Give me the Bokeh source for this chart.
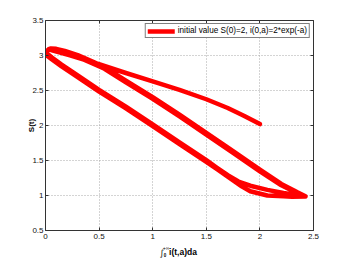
import math
from bokeh.plotting import figure
from bokeh.models import FixedTicker, LinearAxis, Legend, LegendItem, Range1d
from bokeh.embed import file_html
from bokeh.resources import INLINE

# ---------------- data ----------------
x_ticks = [0, 0.5, 1, 1.5, 2, 2.5]
x_labels = ["0", "0.5", "1", "1.5", "2", "2.5"]
y_ticks = [0.5, 1, 1.5, 2, 2.5, 3, 3.5]
y_labels = ["0.5", "1", "1.5", "2", "2.5", "3", "3.5"]

# initial transient: from (2, 2) up-left to the top-left turning region
trans_i = [2.0, 1.85, 1.7, 1.5, 1.25, 1.0, 0.75, 0.5, 0.35, 0.22, 0.12, 0.06, 0.03]
trans_s = [2.02, 2.14, 2.25, 2.375, 2.51, 2.63, 2.75, 2.875, 2.945, 3.005, 3.05, 3.075, 3.09]

# cycle 1, outgoing branch (down-right)
c1_down_i = [0.05, 0.1, 0.18, 0.3, 0.45, 0.55, 0.75, 1.0, 1.25, 1.5, 1.75, 2.0, 2.2, 2.35, 2.425]
c1_down_s = [3.1, 3.095, 3.065, 3.005, 2.905, 2.835, 2.64, 2.405, 2.155, 1.895, 1.635, 1.37, 1.165, 1.045, 0.99]
# cycle 1, return branch (up-left)
c1_up_i = [2.38, 2.22, 2.07, 1.91, 1.8, 1.7, 1.6, 1.5, 1.25, 1.0, 0.75, 0.5, 0.3, 0.15, 0.06, 0.02, 0.01, 0.02, 0.05, 0.1]
c1_up_s = [0.997, 1.036, 1.08, 1.14, 1.2, 1.29, 1.395, 1.505, 1.76, 2.015, 2.27, 2.51, 2.715, 2.87, 2.97, 3.02, 3.05, 3.075, 3.09, 3.085]

# cycle 2, outgoing branch
c2_down_i = [0.18, 0.3, 0.45, 0.55, 0.75, 1.0, 1.25, 1.5, 1.75, 2.0, 2.2, 2.35, 2.425]
c2_down_s = [3.05, 2.98, 2.88, 2.81, 2.615, 2.38, 2.13, 1.87, 1.61, 1.345, 1.145, 1.032, 0.985]
# cycle 2, return branch
c2_up_i = [2.3, 2.22, 2.07, 1.91, 1.83, 1.76, 1.7, 1.6, 1.5, 1.25, 1.0, 0.75, 0.5, 0.3, 0.15, 0.06, 0.02, 0.005]
c2_up_s = [0.982, 0.988, 1.0, 1.06, 1.13, 1.205, 1.27, 1.375, 1.48, 1.735, 1.99, 2.245, 2.485, 2.69, 2.845, 2.945, 2.99, 3.015]

path_i = trans_i + c1_down_i + c1_up_i + c2_down_i + c2_up_i
path_s = trans_s + c1_down_s + c1_up_s + c2_down_s + c2_up_s

legend_text = "initial value S(0)=2, i(0,a)=2*exp(-a)"
y_title = "S(t)"
# pieces of the x-axis title  \int_0^{+inf} i(t,a)da
xt_integral = "\u222b"
xt_upper = "+\u221e"
xt_lower = "0"
xt_body = "i(t,a)da"

# ---------------- figure ----------------
FONT = "Liberation Sans"
p = figure(width=346, height=260, output_backend="svg", toolbar_location=None,
           x_range=Range1d(0, 2.5), y_range=Range1d(0.5, 3.5),
           min_border_left=45, min_border_right=33, min_border_top=20, min_border_bottom=29)
p.background_fill_color = "white"
p.border_fill_color = "white"
p.outline_line_color = None

def style_axis(ax, ticks, labels, show_labels=True):
    ax.ticker = FixedTicker(ticks=ticks)
    ax.major_label_overrides = {t: l for t, l in zip(ticks, labels)}
    ax.axis_line_color = "#333333"
    ax.axis_line_width = 1
    ax.major_tick_in = 3
    ax.major_tick_out = 0
    ax.major_tick_line_color = "#333333"
    ax.minor_tick_line_color = None
    ax.major_label_text_font = FONT
    ax.major_label_text_color = "#111111"
    if show_labels:
        ax.major_label_text_font_size = "8px"
    else:
        ax.major_label_text_font_size = "0px"
        ax.major_label_text_alpha = 0

style_axis(p.xaxis[0], x_ticks, x_labels)
p.xaxis[0].major_label_standoff = 3
style_axis(p.yaxis[0], y_ticks, y_labels)
p.yaxis[0].major_label_standoff = 2
p.yaxis[0].axis_label = y_title
p.yaxis[0].axis_label_text_font = FONT
p.yaxis[0].axis_label_text_font_style = "bold"
p.yaxis[0].axis_label_text_font_size = "8px"
p.yaxis[0].axis_label_text_color = "black"
p.yaxis[0].axis_label_standoff = -7

top_ax = LinearAxis()
style_axis(top_ax, x_ticks, x_labels, show_labels=False)
p.add_layout(top_ax, "above")
right_ax = LinearAxis()
style_axis(right_ax, y_ticks, y_labels, show_labels=False)
p.add_layout(right_ax, "right")

# x-axis title drawn as tick labels of label-only axes stacked below
def title_axis(pos, text, font, size, style, standoff):
    ax = LinearAxis(ticker=FixedTicker(ticks=[pos]),
                    major_label_overrides={pos: text})
    ax.axis_line_color = None
    ax.major_tick_line_color = None
    ax.minor_tick_line_color = None
    ax.major_tick_in = 0
    ax.major_tick_out = 0
    ax.major_label_standoff = standoff
    ax.major_label_text_font = font
    ax.major_label_text_font_size = size
    ax.major_label_text_font_style = style
    ax.major_label_text_color = "black"
    p.add_layout(ax, "below")
    return ax

title_axis(1.124, xt_upper, FONT, "5px", "normal", 3)
title_axis(1.283, xt_body, FONT, "8.5px", "bold", -7)
title_axis(1.115, xt_lower, FONT, "4.5px", "bold", -7)
title_axis(1.085, xt_integral, "DejaVu Sans", "8.5px", "normal", -12)

for g in (p.xgrid[0], p.ygrid[0]):
    g.grid_line_color = "#a8a8a8"
    g.grid_line_dash = "1 2"
    g.grid_line_width = 1
p.xgrid[0].ticker = FixedTicker(ticks=x_ticks)
p.ygrid[0].ticker = FixedTicker(ticks=y_ticks)

r = p.line(path_i, path_s, line_color="#ff0000", line_width=4.5,
           line_join="round", line_cap="round")

legend = Legend(items=[LegendItem(label=legend_text, renderers=[r])],
                location="top_right", margin=3, padding=2, spacing=0,
                glyph_width=27, glyph_height=8, label_height=8, label_standoff=3,
                label_text_font=FONT, label_text_font_size="8.2px", label_text_color="black",
                border_line_color="black", border_line_width=1,
                background_fill_color="white", background_fill_alpha=1.0)
p.add_layout(legend)

open("out.html", "w").write(file_html(p, INLINE))
